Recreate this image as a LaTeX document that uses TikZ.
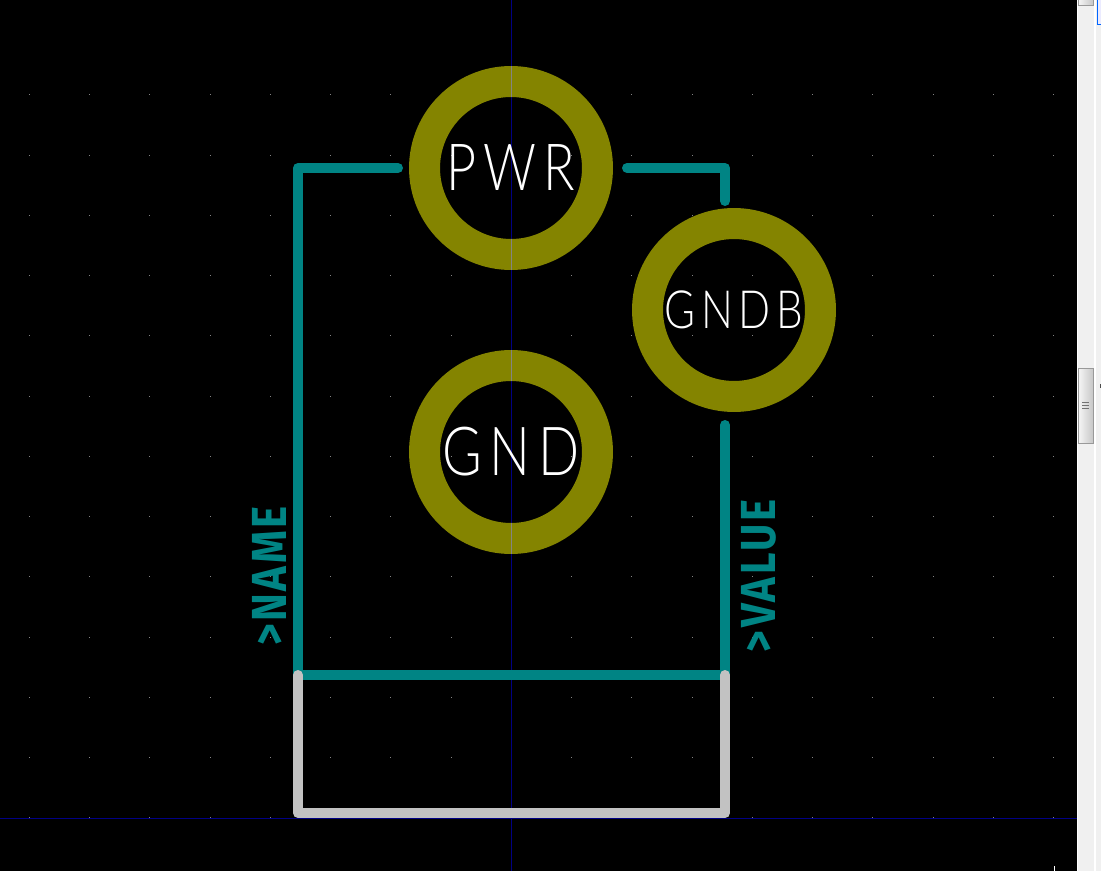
\documentclass[tikz,border=0pt]{standalone}
\usepackage{fontspec}
\usetikzlibrary{calc}
\newfontfamily\padfont[LetterSpace=11,FakeStretch=.8]{Lato Light}
\newfontfamily\silkfont[LetterSpace=5.5,FakeStretch=.85]{Fira Sans Bold}
\definecolor{padolive}{HTML}{848400}
\definecolor{silkteal}{HTML}{008484}
\definecolor{edgegrey}{HTML}{C2C2C2}
\definecolor{axisblue}{HTML}{000084}
\definecolor{griddot}{HTML}{848484}
\definecolor{panelgrey}{HTML}{F0F0F0}
\begin{document}
\begin{tikzpicture}[x=.02cm, y=-.02cm,
pad/.style={circle, draw=padolive, line width=.62cm, minimum size=3.46cm, inner sep=0pt, text=white, font=\padfont},
silk/.style={draw=silkteal, line width=.2cm, line cap=round, line join=round},
edge/.style={draw=edgegrey, line width=.2cm, line cap=round, line join=round},
label/.style={text=silkteal, rotate=90, inner sep=0pt, font=\silkfont\fontsize{28pt}{28pt}\selectfont}]

\useasboundingbox (0,0) rectangle (1101,871);
\fill[black] (-5,-5) rectangle (1106,876);

% grid
\foreach \i in {0,1,...,17}{
\foreach \j in {0,1,...,12}{
\fill[griddot] ({29.3+\i*60.25-.5},{817.8-\j*60.25-.5}) rectangle +(1,1);
}
}
\coordinate (axistop) at (511.5,0);
\coordinate (axisbot) at (511.5,871);
\coordinate (axisleft) at (0,818.5);
\coordinate (axisright) at (1077,818.5);
\draw[axisblue, line width=.02cm] (axistop) -- (axisbot);
\draw[axisblue, line width=.03cm] (axisleft) -- (axisright);

% outline
\coordinate (pwrleft) at (398,168);
\coordinate (pwrright) at (627,168);
\coordinate (cornerTL) at (298,168);
\coordinate (cornerTR) at (725,168);
\coordinate (gndbtop) at (725,201);
\coordinate (gndbbot) at (725,425);
\coordinate (cornerML) at (298,675);
\coordinate (cornerMR) at (725,675);
\coordinate (cornerBL) at (298,813);
\coordinate (cornerBR) at (725,813);
\draw[silk] (pwrleft) -- (cornerTL) -- (cornerML) -- (cornerMR) -- (gndbbot);
\draw[silk] (pwrright) -- (cornerTR) -- (gndbtop);
\draw[edge] (cornerML) -- (cornerBL) -- (cornerBR) -- (cornerMR);

% pads
\node[pad](pwr) at (511,168){\fontsize{37pt}{37pt}\selectfont PWR};
\node[pad](gnd) at (511,452){\fontsize{38.5pt}{38.5pt}\selectfont GND};
\node[pad](gndb) at (734,310){\fontsize{30pt}{30pt}\selectfont GNDB};
\foreach \i in {66,239,350,523}{
\fill[griddot] (511,\i) rectangle (512,\i+31);
}

\node[label](name) at (269,576){>NAME};
\node[label](value) at (759,576){>VALUE};

% scrollbar
\fill[panelgrey] (1077,0) rectangle (1106,876);
\fill[white] (1094,0) rectangle (1096,876);
\fill[white] (1077,0) rectangle (1078,876);
\filldraw[draw=blue!60!cyan, fill=blue!8] (1097.5,-3) rectangle (1106,24);
\filldraw[draw=black!40, left color=black!4, right color=black!22] (1078.5,-3) rectangle (1093,5);
\filldraw[draw=black!40, left color=black!4, right color=black!22] (1078.5,368.5) rectangle (1093,443);
\foreach \i in {402,405,...,408}{
\fill[black!55] (1082,\i) rectangle (1089,\i+1);
}
\fill[black!70] (1100,384) rectangle (1102,388);
\fill[white] (1054,866) rectangle (1055,871);
\end{tikzpicture}
\end{document}
